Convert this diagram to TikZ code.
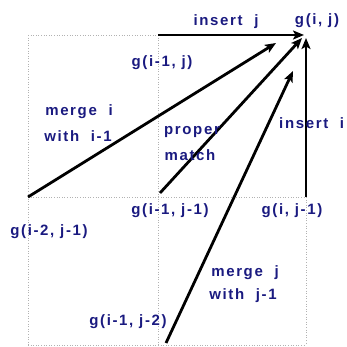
\documentclass[tikz,border=0pt]{standalone}
\usepackage{fontspec}
\setmainfont{Liberation Sans}
\usetikzlibrary{arrows.meta}
\definecolor{navy}{RGB}{26,26,128}
\tikzset{
  lbl/.style={text=navy,font=\fontsize{15}{18}\selectfont\bfseries\addfontfeatures{LetterSpace=11},inner sep=0pt,anchor=center},
  grid/.style={draw=gray!60,dotted,line width=0.6pt},
  arr/.style={draw=black,line width=2.8pt,-{Stealth[length=11pt,width=9pt,inset=2.5pt]}},
}
\begin{document}
\begin{tikzpicture}[x=1pt,y=-1pt]
\useasboundingbox (0,0) rectangle (347,347);
% grid points
\coordinate (TL) at (28,35);
\coordinate (TM) at (158,35);
\coordinate (ML) at (28,197);
\coordinate (MM) at (158,197);
\coordinate (MR) at (306,197);
\coordinate (BL) at (28,345);
\coordinate (BM) at (158,345);
\coordinate (BR) at (306,345);
% dotted grid
\draw[grid] (TL) -- (TM);
\draw[grid] (TL) -- (BL);
\draw[grid] (TM) -- (BM);
\draw[grid] (MR) -- (BR);
\draw[grid] (ML) -- (MR);
\draw[grid] (BL) -- (BR);
% arrow ends
\coordinate (ij) at (304,35);
\coordinate (ii) at (306,38);
\coordinate (mi) at (276,43);
\coordinate (pmS) at (160,193);
\coordinate (pm) at (302,38);
\coordinate (mjS) at (166,343);
\coordinate (mj) at (293,71);
% arrows
\draw[arr] (TM) -- (ij);
\draw[arr] (MR) -- (ii);
\draw[arr] (ML) -- (mi);
\draw[arr] (pmS) -- (pm);
\draw[arr] (mjS) -- (mj);
% labels
\node[lbl] (lgij) at (317,21) {g(i, j)};
\node[lbl] (lij) at (226,22) {insert\ \ j};
\node[lbl] (lg1) at (162,63) {g(i-1, j)};
\node[lbl] (lmi) at (79,112) {merge\ \ i};
\node[lbl] (lwi) at (78,136) {with\ \ i-1};
\node[lbl] (lpr) at (192,132) {proper};
\node[lbl] (lma) at (190,155) {match};
\node[lbl,anchor=west] (lii) at (279,123) {insert\ \ i};
\node[lbl] (lg11) at (170,211) {g(i-1, j-1)};
\node[lbl] (lgi1) at (292,211) {g(i, j-1)};
\node[lbl] (lg21) at (49,232) {g(i-2, j-1)};
\node[lbl] (lmj) at (245,273) {merge\ \ j};
\node[lbl] (lwj) at (243,296) {with\ \ j-1};
\node[lbl] (lg12) at (128,322) {g(i-1, j-2)};
\end{tikzpicture}
\end{document}
